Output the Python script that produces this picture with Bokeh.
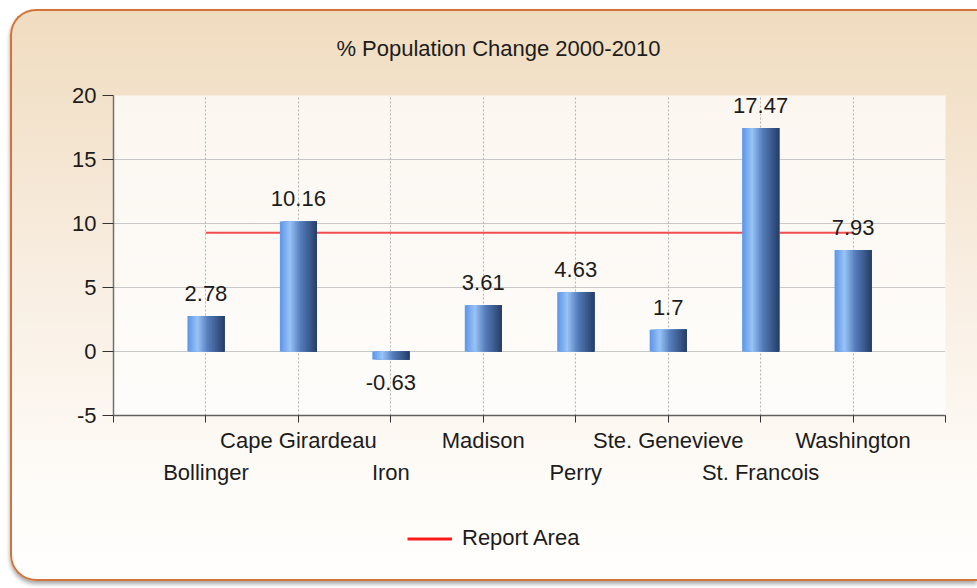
from bokeh.plotting import figure
from bokeh.layouts import column
from bokeh.models import (FixedTicker, LinearAxis, Legend, LegendItem, Range1d, Grid, Label)
from bokeh.embed import file_html
from bokeh.resources import INLINE

# ---------------- data ----------------
title_text = "% Population Change 2000-2010"
counties = ["Bollinger", "Cape Girardeau", "Iron", "Madison", "Perry",
            "Ste. Genevieve", "St. Francois", "Washington"]
pct_change = [2.78, 10.16, -0.63, 3.61, 4.63, 1.7, 17.47, 7.93]
report_area = 9.28
series_name = "Report Area"
y_ticks = [-5, 0, 5, 10, 15, 20]

# ---------------- style ----------------
FONT = "Liberation Sans"
TXT = "#1c1c1c"
FS = "22px"
W = 965
TOP_H, MAIN_H, LEG_H = 60, 428, 80
BL, BR = 101, 32          # left / right borders around the plotting frame

n = len(counties)
x_pos = list(range(1, n + 1))


def blank(fig):
    fig.border_fill_color = None
    fig.background_fill_color = None
    fig.outline_line_color = None


# ---------------- title strip (frame aligned with the chart's frame) ----------------
p_top = figure(width=W, height=TOP_H, x_range=Range1d(BL, W - BR), y_range=Range1d(0, TOP_H),
               x_axis_type=None, y_axis_type=None, output_backend="svg",
               toolbar_location=None, min_border_left=BL, min_border_right=BR,
               min_border_top=0, min_border_bottom=0)
blank(p_top)
p_top.add_layout(Label(x=486, y=23, text=title_text, text_align="center",
                       text_baseline="middle", text_font=FONT, text_font_size=FS,
                       text_color=TXT))

# ---------------- main chart ----------------
p = figure(width=W, height=MAIN_H,
           x_range=Range1d(0, n + 1), y_range=Range1d(y_ticks[0], y_ticks[-1]),
           x_axis_type=None, y_axis_type=None,
           output_backend="svg", toolbar_location=None,
           min_border_left=BL, min_border_right=BR,
           min_border_top=24, min_border_bottom=84)
p.border_fill_color = None
p.background_fill_color = "white"
p.background_fill_alpha = 0.7
p.outline_line_color = None

yaxis = LinearAxis(ticker=FixedTicker(ticks=y_ticks),
                   major_label_overrides={t: str(t) for t in y_ticks})
yaxis.axis_line_color = "#707070"
yaxis.axis_line_width = 1.5
yaxis.major_tick_line_color = "#333333"
yaxis.major_tick_out = 11
yaxis.major_tick_in = 0
yaxis.minor_tick_out = 0
yaxis.minor_tick_in = 0
yaxis.major_label_standoff = 6
yaxis.major_label_text_font = FONT
yaxis.major_label_text_font_size = FS
yaxis.major_label_text_color = TXT
p.add_layout(yaxis, "left")

all_ticks = list(range(0, n + 2))
upper = {t: "" for t in all_ticks}
for i, name in enumerate(counties):
    if i % 2 == 1:
        upper[x_pos[i]] = name
xaxis1 = LinearAxis(ticker=FixedTicker(ticks=all_ticks), major_label_overrides=upper)
xaxis1.axis_line_color = "#606060"
xaxis1.axis_line_width = 1.5
xaxis1.major_tick_line_color = "#333333"
xaxis1.major_tick_out = 7
xaxis1.major_tick_in = 0
xaxis1.minor_tick_out = 0
xaxis1.minor_tick_in = 0
xaxis1.major_label_standoff = 5
xaxis1.major_label_text_font = FONT
xaxis1.major_label_text_font_size = FS
xaxis1.major_label_text_color = TXT
p.add_layout(xaxis1, "below")

lower_ticks = [x_pos[i] for i in range(0, n, 2)]
lower = {x_pos[i]: counties[i] for i in range(0, n, 2)}
xaxis2 = LinearAxis(ticker=FixedTicker(ticks=lower_ticks), major_label_overrides=lower)
xaxis2.axis_line_color = None
xaxis2.major_tick_line_color = None
xaxis2.minor_tick_line_color = None
xaxis2.major_tick_out = 0
xaxis2.major_tick_in = 0
xaxis2.major_label_standoff = 4
xaxis2.major_label_text_font = FONT
xaxis2.major_label_text_font_size = FS
xaxis2.major_label_text_color = TXT
p.add_layout(xaxis2, "below")

p.add_layout(Grid(dimension=1, ticker=FixedTicker(ticks=y_ticks),
                  grid_line_color="#c8c8c8", grid_line_width=1.2))
p.add_layout(Grid(dimension=0, ticker=FixedTicker(ticks=x_pos + [n + 1]),
                  grid_line_color="#b5b5b5", grid_line_dash="2 2"))

# report area line (behind bars)
p.line(x=x_pos, y=[report_area] * n, line_color="#f03c3c", line_width=2, line_alpha=0.9)

# gradient bars: overlapping strips, each reaching the bar's right edge
bw = 0.4
N = 24
stops = [(0.0, (92, 148, 230)), (0.27, (152, 195, 246)),
         (0.55, (86, 126, 188)), (1.0, (38, 62, 104))]


def grad(t):
    for (t0, c0), (t1, c1) in zip(stops[:-1], stops[1:]):
        if t0 <= t <= t1:
            f = (t - t0) / (t1 - t0)
            return "#%02x%02x%02x" % tuple(int(round(a + (b - a) * f)) for a, b in zip(c0, c1))
    return "#%02x%02x%02x" % stops[-1][1]


sw = bw / N
for k in range(N):
    t = (k + 0.5) / N
    w = bw - k * sw
    xs = [x + bw / 2 - w / 2 for x in x_pos]
    p.vbar(x=xs, top=pct_change, bottom=0, width=w,
           fill_color=grad(t), line_color=None)

# value labels
pos_i = [i for i, v in enumerate(pct_change) if v >= 0]
neg_i = [i for i, v in enumerate(pct_change) if v < 0]
p.text(x=[x_pos[i] for i in pos_i], y=[pct_change[i] for i in pos_i],
       text=[str(pct_change[i]) for i in pos_i],
       text_align="center", text_baseline="bottom", y_offset=-15,
       text_font={"value": FONT}, text_font_size={"value": FS}, text_color=TXT)
p.text(x=[x_pos[i] for i in neg_i], y=[pct_change[i] for i in neg_i],
       text=[str(pct_change[i]) for i in neg_i],
       text_align="center", text_baseline="top", y_offset=15,
       text_font={"value": FONT}, text_font_size={"value": FS}, text_color=TXT)

# ---------------- legend strip ----------------
p_leg = figure(width=W, height=LEG_H, x_range=Range1d(0, n + 1),
               y_range=Range1d(y_ticks[0] - 1, y_ticks[0]),
               x_axis_type=None, y_axis_type=None, output_backend="svg",
               toolbar_location=None, min_border_left=BL, min_border_right=BR,
               min_border_top=0, min_border_bottom=0)
blank(p_leg)
# same series as in the chart; its values lie outside this strip's range, only the key shows
leg_r = p_leg.line(x=x_pos, y=[report_area] * n, line_color="#ff1a1a", line_width=3)
legend = Legend(items=[LegendItem(label=series_name, renderers=[leg_r])],
                location=(294, 28), orientation="horizontal",
                border_line_color=None, background_fill_alpha=0,
                padding=0, margin=0, glyph_width=45, glyph_height=25,
                label_standoff=10, label_text_font=FONT,
                label_text_font_size=FS, label_text_color=TXT)
p_leg.add_layout(legend, "center")

layout = column(p_top, p, p_leg, spacing=0)
layout.styles = {
    "margin-left": "10px",
    "margin-top": "9px",
    "border-left": "2px solid #d3733a",
    "border-top": "2px solid #d3733a",
    "border-bottom": "2px solid #d3733a",
    "border-radius": "26px 0 0 26px",
    "background": "linear-gradient(to bottom, #f0dcbf 0%, #f8ede0 45%, #fefcf9 85%, #fffefc 100%)",
    "box-shadow": "0px 3px 4px rgba(0,0,0,0.35)",
}

open("out.html", "w").write(file_html(layout, INLINE))
